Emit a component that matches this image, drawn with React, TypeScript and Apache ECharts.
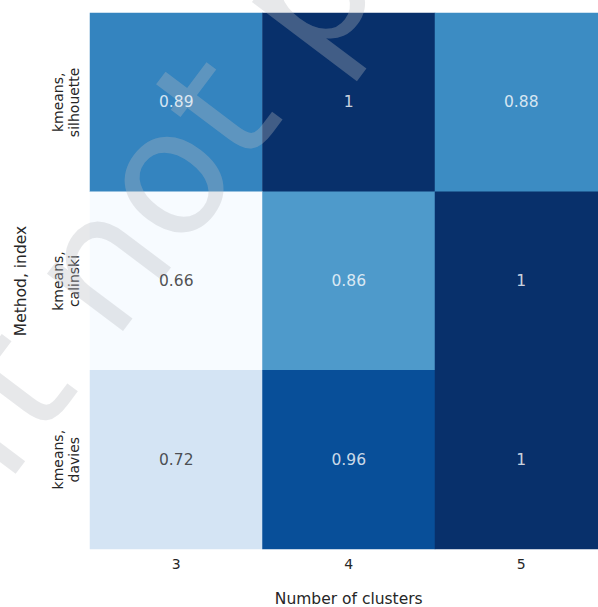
import React, { useEffect, useRef } from "react";
import * as echarts from "echarts";

// Number of clusters along the x axis
const clusterCounts = ["3", "4", "5"];
// Clustering method / validity index pairs, top to bottom
const methodIndexes = ["kmeans,\nsilhouette", "kmeans,\ncalinski", "kmeans,\ndavies"];

// Normalised index scores per row (columns follow clusterCounts)
const silhouetteScores = [0.89, 1, 0.88];
const calinskiScores = [0.66, 0.86, 1];
const daviesScores = [0.72, 0.96, 1];

// Sequential "Blues" colour ramp
const bluesPalette = [
  "#f7fbff",
  "#deebf7",
  "#c6dbef",
  "#9ecae1",
  "#6baed6",
  "#4292c6",
  "#2171b5",
  "#08519c",
  "#08306b",
];

const scoreRows = [silhouetteScores, calinskiScores, daviesScores];
const FONT = '"DejaVu Sans", "Noto Sans", sans-serif';
const TEXT_DARK = "#262626";

export default function App() {
  const ref = useRef<HTMLDivElement>(null);

  useEffect(() => {
    if (!ref.current) return;
    const chart = echarts.init(ref.current, undefined, { renderer: "svg" });

    const allScores = scoreRows.flat();
    const vMin = Math.min(...allScores);
    const vMax = Math.max(...allScores);

    const cells: number[][] = [];
    scoreRows.forEach((row, yi) =>
      row.forEach((v, xi) => cells.push([xi, yi, v]))
    );

    // annotation colour: dark text on the pale cells, white on the rest
    const annotations = cells.map(([xi, yi, v]) => {
      const t = (v - vMin) / (vMax - vMin);
      return {
        value: [xi, yi, v],
        label: { color: t < 0.35 ? TEXT_DARK : "#ffffff" },
      };
    });

    chart.setOption({
      animation: false,
      backgroundColor: "#ffffff",
      grid: {
        left: 90,
        top: 13,
        width: 517.5,
        height: 536,
        containLabel: false,
        outerBoundsMode: "none",
      },
      xAxis: {
        type: "category",
        data: clusterCounts,
        name: "Number of clusters",
        nameLocation: "middle",
        nameGap: 42,
        nameTextStyle: { color: TEXT_DARK, fontSize: 15.5, fontFamily: FONT },
        axisLine: { show: false },
        axisTick: { show: false },
        splitArea: { show: false },
        splitLine: { show: false },
        axisLabel: { color: TEXT_DARK, fontSize: 14, fontFamily: FONT, margin: 8 },
      },
      yAxis: {
        type: "category",
        data: methodIndexes,
        inverse: true,
        name: "Method, index",
        nameLocation: "middle",
        nameRotate: 90,
        nameGap: 61,
        nameTextStyle: { color: TEXT_DARK, fontSize: 15.5, fontFamily: FONT },
        axisLine: { show: false },
        axisTick: { show: false },
        splitArea: { show: false },
        splitLine: { show: false },
        axisLabel: {
          color: TEXT_DARK,
          fontSize: 14,
          fontFamily: FONT,
          rotate: 90,
          margin: 8,
          lineHeight: 16,
          align: "center",
        },
      },
      visualMap: {
        show: false,
        min: vMin,
        max: vMax,
        dimension: 2,
        seriesIndex: 0,
        inRange: { color: bluesPalette },
      },
      graphic: [
        {
          type: "text",
          x: -232,
          y: 702,
          rotation: (53 * Math.PI) / 180,
          z: 5,
          silent: true,
          style: {
            text: "Draft not published",
            fontSize: 174,
            fontFamily: FONT,
            fill: "rgba(182,186,190,0.33)",
            align: "left",
            verticalAlign: "middle",
          },
        },
      ],
      series: [
        {
          type: "heatmap",
          data: cells,
          z: 2,
          itemStyle: { borderWidth: 0 },
          label: { show: false },
          emphasis: { disabled: true },
        },
        {
          type: "scatter",
          data: annotations,
          z: 10,
          symbolSize: 0,
          silent: true,
          label: {
            show: true,
            position: "inside",
            fontSize: 15.5,
            fontFamily: FONT,
            formatter: (p: any) => String(p.value[2]),
          },
        },
      ],
    });

    return () => chart.dispose();
  }, []);

  return (
    <div
      ref={ref}
      style={{ position: "fixed", left: 0, top: 0, width: 598, height: 607 }}
    />
  );
}
